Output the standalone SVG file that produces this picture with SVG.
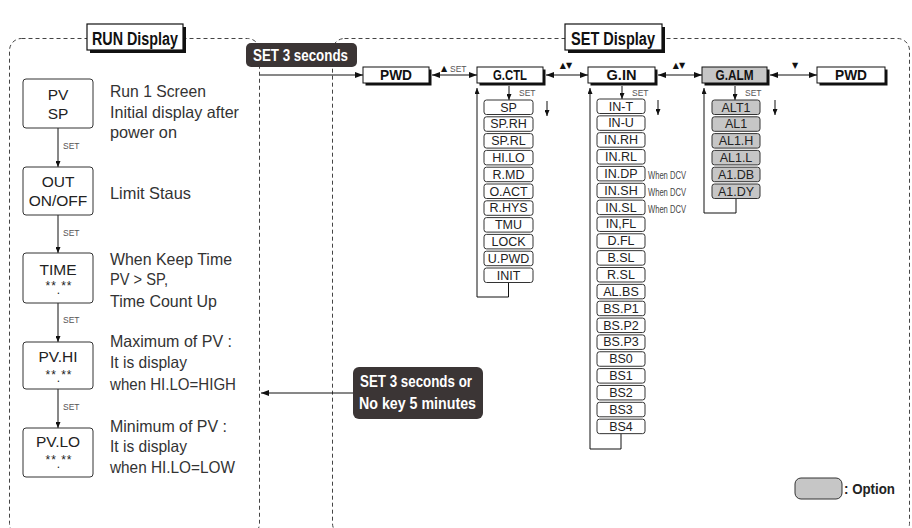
<svg xmlns="http://www.w3.org/2000/svg" width="912" height="528" viewBox="0 0 912 528">
<style>
.dash{fill:none;stroke:#444;stroke-width:1;stroke-dasharray:4 3}
.ln{fill:none;stroke:#111;stroke-width:1}
.ttl rect.sh{fill:#111}
.ttl rect.bx{fill:#fff;stroke:#111;stroke-width:1.2}
.ttl text{font-family:"Liberation Sans",Arial,sans-serif;font-weight:bold;font-size:18px;fill:#111}
.dark rect{fill:#3b3535}
.dark text{font-family:"Liberation Sans",Arial,sans-serif;font-weight:bold;font-size:16.5px;fill:#fff}
.top rect.sh{fill:#111}
.top rect.bx{fill:#fff;stroke:#111;stroke-width:1}
.top.opt rect.bx{fill:#c6c6c6}
.top text{font-family:"Liberation Sans",Arial,sans-serif;font-weight:bold;font-size:14px;fill:#111;text-anchor:middle}
.it rect{fill:#fff;stroke:#333;stroke-width:1}
.it.opt rect{fill:#c6c6c6}
.it text{font-family:"Liberation Sans",Arial,sans-serif;font-size:12.5px;fill:#222;text-anchor:middle}
.lbl{font-family:"Liberation Sans",Arial,sans-serif;font-size:8.5px;fill:#555}
.tri{font-family:"DejaVu Sans",sans-serif;font-size:8px;fill:#111;text-anchor:middle}
.dcv{font-family:"Liberation Sans",Arial,sans-serif;font-size:10px;fill:#444}
.desc{font-family:"Liberation Sans",Arial,sans-serif;font-size:16.5px;fill:#333}
.nd rect{fill:#fff;stroke:#333;stroke-width:1}
.nd text{font-family:"Liberation Sans",Arial,sans-serif;font-size:15.5px;fill:#222;text-anchor:middle}
.nd text.st{font-size:12px;letter-spacing:1px}
</style>
<defs>
<marker id="ah" viewBox="0 0 8 6" refX="8" refY="3" markerWidth="8" markerHeight="6" markerUnits="userSpaceOnUse" orient="auto-start-reverse"><path d="M0,0L8,3L0,6z" fill="#111"/></marker>
<marker id="ahs" viewBox="0 0 6 5" refX="6" refY="2.5" markerWidth="6" markerHeight="5" markerUnits="userSpaceOnUse" orient="auto-start-reverse"><path d="M0,0L6,2.5L0,5z" fill="#111"/></marker>
</defs>

<!-- panels -->
<g id="panels">
<rect class="dash" x="9.5" y="38.5" width="250" height="497" rx="12"/>
<rect class="dash" x="332.5" y="38.5" width="577" height="497" rx="12"/>
</g>

<g id="title-run" class="ttl">
<rect class="sh" x="90" y="27" width="96" height="26"/>
<rect class="bx" x="87" y="24" width="96" height="26"/>
<text x="92" y="45" textLength="86" lengthAdjust="spacingAndGlyphs">RUN Display</text>
</g>
<g id="title-set" class="ttl">
<rect class="sh" x="568" y="27" width="97" height="26"/>
<rect class="bx" x="565" y="24" width="97" height="26"/>
<text x="571" y="45" textLength="84" lengthAdjust="spacingAndGlyphs">SET Display</text>
</g>

<!-- connectors -->
<g id="connectors">
<line class="ln" x1="260" y1="75" x2="363" y2="75" marker-end="url(#ah)"/>
<line class="ln" x1="432" y1="75" x2="477" y2="75" marker-start="url(#ah)" marker-end="url(#ah)"/>
<line class="ln" x1="546" y1="75" x2="588" y2="75" marker-start="url(#ah)" marker-end="url(#ah)"/>
<line class="ln" x1="658" y1="75" x2="702" y2="75" marker-start="url(#ah)" marker-end="url(#ah)"/>
<line class="ln" x1="770" y1="75" x2="817" y2="75" marker-start="url(#ah)" marker-end="url(#ah)"/>
<line class="ln" x1="353" y1="393" x2="261" y2="393" marker-end="url(#ah)"/>
<line class="ln" x1="509" y1="86" x2="509" y2="100" marker-end="url(#ahs)"/>
<line class="ln" x1="622" y1="86" x2="622" y2="99" marker-end="url(#ahs)"/>
<line class="ln" x1="735" y1="86" x2="735" y2="100" marker-end="url(#ahs)"/>
<line class="ln" x1="547" y1="101" x2="547" y2="116" marker-end="url(#ahs)"/>
<line class="ln" x1="658" y1="100" x2="658" y2="115" marker-end="url(#ahs)"/>
<line class="ln" x1="775" y1="100" x2="775" y2="115" marker-end="url(#ahs)"/>
<polyline class="ln" points="508.5,282.5 508.5,297 477,297 477,88" marker-end="url(#ahs)"/>
<polyline class="ln" points="621,433.5 621,449 590,449 590,88" marker-end="url(#ahs)"/>
<polyline class="ln" points="736,198 736,213 704,213 704,88" marker-end="url(#ahs)"/>
<line class="ln" x1="58" y1="128" x2="58" y2="167" marker-end="url(#ahs)"/>
<line class="ln" x1="58" y1="215" x2="58" y2="253" marker-end="url(#ahs)"/>
<line class="ln" x1="58" y1="303" x2="58" y2="342" marker-end="url(#ahs)"/>
<line class="ln" x1="58" y1="389" x2="58" y2="428" marker-end="url(#ahs)"/>
</g>

<g id="labels">
<text class="lbl" x="63" y="149">SET</text>
<text class="lbl" x="63" y="236">SET</text>
<text class="lbl" x="63" y="323">SET</text>
<text class="lbl" x="63" y="410">SET</text>
<text class="tri" x="444" y="71">▲</text>
<text class="lbl" x="450" y="72">SET</text>
<text class="tri" x="566" y="68">▲▼</text>
<text class="tri" x="679" y="68">▲▼</text>
<text class="tri" x="795" y="68">▼</text>
<text class="lbl" x="519" y="96">SET</text>
<text class="lbl" x="632" y="96">SET</text>
<text class="lbl" x="745" y="96">SET</text>
<text class="dcv" x="648" y="179" textLength="38" lengthAdjust="spacingAndGlyphs">When DCV</text>
<text class="dcv" x="648" y="196" textLength="38" lengthAdjust="spacingAndGlyphs">When DCV</text>
<text class="dcv" x="648" y="213" textLength="38" lengthAdjust="spacingAndGlyphs">When DCV</text>
</g>

<g id="set3" class="dark">
<rect x="246" y="43" width="111" height="24" rx="5"/>
<text x="253" y="61" textLength="95" lengthAdjust="spacingAndGlyphs">SET 3 seconds</text>
</g>
<g id="set3-nokey" class="dark">
<rect x="353" y="367" width="130" height="52" rx="6"/>
<text x="360" y="387" textLength="112" lengthAdjust="spacingAndGlyphs">SET 3 seconds or</text>
<text x="359" y="409" textLength="117" lengthAdjust="spacingAndGlyphs">No key 5 minutes</text>
</g>

<!-- top row -->
<g id="pwd1" class="top"><rect class="sh" x="365.5" y="69.5" width="66" height="16"/><rect class="bx" x="363" y="67" width="66" height="16"/><text x="396" y="80" textLength="32" lengthAdjust="spacingAndGlyphs">PWD</text></g>
<g id="gctl" class="top"><rect class="sh" x="479.5" y="69.5" width="66" height="16"/><rect class="bx" x="477" y="67" width="66" height="16"/><text x="510" y="80" textLength="34" lengthAdjust="spacingAndGlyphs">G.CTL</text></g>
<g id="gin" class="top"><rect class="sh" x="590.5" y="69.5" width="67" height="16"/><rect class="bx" x="588" y="67" width="67" height="16"/><text x="621.5" y="80" textLength="30" lengthAdjust="spacingAndGlyphs">G.IN</text></g>
<g id="galm" class="top opt"><rect class="sh" x="704.5" y="69.5" width="65" height="16"/><rect class="bx" x="702" y="67" width="65" height="16"/><text x="734.5" y="80" textLength="38" lengthAdjust="spacingAndGlyphs">G.ALM</text></g>
<g id="pwd2" class="top"><rect class="sh" x="819.5" y="69.5" width="68" height="16"/><rect class="bx" x="817" y="67" width="68" height="16"/><text x="851" y="80" textLength="32" lengthAdjust="spacingAndGlyphs">PWD</text></g>

<!-- G.CTL items -->
<g id="ctl-sp" class="it"><rect x="484" y="100" width="49" height="14.5" rx="2.5"/><text x="508.5" y="111.5">SP</text></g>
<g id="ctl-sprh" class="it"><rect x="484" y="116.8" width="49" height="14.5" rx="2.5"/><text x="508.5" y="128.3">SP.RH</text></g>
<g id="ctl-sprl" class="it"><rect x="484" y="133.6" width="49" height="14.5" rx="2.5"/><text x="508.5" y="145.1">SP.RL</text></g>
<g id="ctl-hilo" class="it"><rect x="484" y="150.4" width="49" height="14.5" rx="2.5"/><text x="508.5" y="161.9">HI.LO</text></g>
<g id="ctl-rmd" class="it"><rect x="484" y="167.2" width="49" height="14.5" rx="2.5"/><text x="508.5" y="178.7">R.MD</text></g>
<g id="ctl-oact" class="it"><rect x="484" y="184" width="49" height="14.5" rx="2.5"/><text x="508.5" y="195.5">O.ACT</text></g>
<g id="ctl-rhys" class="it"><rect x="484" y="200.8" width="49" height="14.5" rx="2.5"/><text x="508.5" y="212.3">R.HYS</text></g>
<g id="ctl-tmu" class="it"><rect x="484" y="217.6" width="49" height="14.5" rx="2.5"/><text x="508.5" y="229.1">TMU</text></g>
<g id="ctl-lock" class="it"><rect x="484" y="234.4" width="49" height="14.5" rx="2.5"/><text x="508.5" y="245.9">LOCK</text></g>
<g id="ctl-upwd" class="it"><rect x="484" y="251.2" width="49" height="14.5" rx="2.5"/><text x="508.5" y="262.7">U.PWD</text></g>
<g id="ctl-init" class="it"><rect x="484" y="268" width="49" height="14.5" rx="2.5"/><text x="508.5" y="279.5">INIT</text></g>

<!-- G.IN items -->
<g id="in-t" class="it"><rect x="597" y="99" width="48" height="14.5" rx="2.5"/><text x="621" y="110.5">IN-T</text></g>
<g id="in-u" class="it"><rect x="597" y="115.85" width="48" height="14.5" rx="2.5"/><text x="621" y="127.35">IN-U</text></g>
<g id="in-rh" class="it"><rect x="597" y="132.7" width="48" height="14.5" rx="2.5"/><text x="621" y="144.2">IN.RH</text></g>
<g id="in-rl" class="it"><rect x="597" y="149.55" width="48" height="14.5" rx="2.5"/><text x="621" y="161.05">IN.RL</text></g>
<g id="in-dp" class="it"><rect x="597" y="166.4" width="48" height="14.5" rx="2.5"/><text x="621" y="177.9">IN.DP</text></g>
<g id="in-sh" class="it"><rect x="597" y="183.25" width="48" height="14.5" rx="2.5"/><text x="621" y="194.75">IN.SH</text></g>
<g id="in-sl" class="it"><rect x="597" y="200.1" width="48" height="14.5" rx="2.5"/><text x="621" y="211.6">IN.SL</text></g>
<g id="in-fl" class="it"><rect x="597" y="216.95" width="48" height="14.5" rx="2.5"/><text x="621" y="228.45">IN,FL</text></g>
<g id="d-fl" class="it"><rect x="597" y="233.8" width="48" height="14.5" rx="2.5"/><text x="621" y="245.3">D.FL</text></g>
<g id="b-sl" class="it"><rect x="597" y="250.65" width="48" height="14.5" rx="2.5"/><text x="621" y="262.15">B.SL</text></g>
<g id="r-sl" class="it"><rect x="597" y="267.5" width="48" height="14.5" rx="2.5"/><text x="621" y="279">R.SL</text></g>
<g id="al-bs" class="it"><rect x="597" y="284.35" width="48" height="14.5" rx="2.5"/><text x="621" y="295.85">AL.BS</text></g>
<g id="bs-p1" class="it"><rect x="597" y="301.2" width="48" height="14.5" rx="2.5"/><text x="621" y="312.7">BS.P1</text></g>
<g id="bs-p2" class="it"><rect x="597" y="318.05" width="48" height="14.5" rx="2.5"/><text x="621" y="329.55">BS.P2</text></g>
<g id="bs-p3" class="it"><rect x="597" y="334.9" width="48" height="14.5" rx="2.5"/><text x="621" y="346.4">BS.P3</text></g>
<g id="bs0" class="it"><rect x="597" y="351.75" width="48" height="14.5" rx="2.5"/><text x="621" y="363.25">BS0</text></g>
<g id="bs1" class="it"><rect x="597" y="368.6" width="48" height="14.5" rx="2.5"/><text x="621" y="380.1">BS1</text></g>
<g id="bs2" class="it"><rect x="597" y="385.45" width="48" height="14.5" rx="2.5"/><text x="621" y="396.95">BS2</text></g>
<g id="bs3" class="it"><rect x="597" y="402.3" width="48" height="14.5" rx="2.5"/><text x="621" y="413.8">BS3</text></g>
<g id="bs4" class="it"><rect x="597" y="419.15" width="48" height="14.5" rx="2.5"/><text x="621" y="430.65">BS4</text></g>

<!-- G.ALM items -->
<g id="alt1" class="it opt"><rect x="712" y="100" width="48" height="14.5" rx="2.5"/><text x="736" y="111.5">ALT1</text></g>
<g id="al1" class="it opt"><rect x="712" y="116.8" width="48" height="14.5" rx="2.5"/><text x="736" y="128.3">AL1</text></g>
<g id="al1h" class="it opt"><rect x="712" y="133.6" width="48" height="14.5" rx="2.5"/><text x="736" y="145.1">AL1.H</text></g>
<g id="al1l" class="it opt"><rect x="712" y="150.4" width="48" height="14.5" rx="2.5"/><text x="736" y="161.9">AL1.L</text></g>
<g id="a1db" class="it opt"><rect x="712" y="167.2" width="48" height="14.5" rx="2.5"/><text x="736" y="178.7">A1.DB</text></g>
<g id="a1dy" class="it opt"><rect x="712" y="184" width="48" height="14.5" rx="2.5"/><text x="736" y="195.5">A1.DY</text></g>

<!-- left nodes -->
<g id="n-pvsp" class="nd"><rect x="23" y="79" width="70" height="49" rx="3"/><text x="58" y="100">PV</text><text x="58" y="119">SP</text></g>
<g id="n-out" class="nd"><rect x="23" y="167" width="70" height="48" rx="3"/><text x="58" y="187">OUT</text><text x="58" y="206">ON/OFF</text></g>
<g id="n-time" class="nd"><rect x="23" y="253" width="70" height="50" rx="3"/><text x="59" y="290" class="st">**<tspan dy="4">.</tspan><tspan dy="-4">**</tspan></text><text x="58" y="275">TIME</text></g>
<g id="n-pvhi" class="nd"><rect x="23" y="342" width="70" height="47" rx="3"/><text x="58" y="362">PV.HI</text><text x="59" y="379" class="st">**<tspan dy="3">.</tspan><tspan dy="-3">**</tspan></text></g>
<g id="n-pvlo" class="nd"><rect x="23" y="428" width="70" height="49" rx="3"/><text x="58" y="447">PV.LO</text><text x="59" y="464" class="st">**<tspan dy="4">.</tspan><tspan dy="-4">**</tspan></text></g>

<g id="descriptions">
<text class="desc" x="110" y="97" textLength="96" lengthAdjust="spacingAndGlyphs">Run 1 Screen</text>
<text class="desc" x="110" y="118" textLength="129" lengthAdjust="spacingAndGlyphs">Initial display after</text>
<text class="desc" x="110" y="138" textLength="67" lengthAdjust="spacingAndGlyphs">power on</text>
<text class="desc" x="110" y="199" textLength="81" lengthAdjust="spacingAndGlyphs">Limit Staus</text>
<text class="desc" x="110" y="265" textLength="122" lengthAdjust="spacingAndGlyphs">When Keep Time</text>
<text class="desc" x="110" y="285" textLength="58" lengthAdjust="spacingAndGlyphs">PV &gt; SP,</text>
<text class="desc" x="110" y="307" textLength="107" lengthAdjust="spacingAndGlyphs">Time Count Up</text>
<text class="desc" x="110" y="347" textLength="122" lengthAdjust="spacingAndGlyphs">Maximum of PV :</text>
<text class="desc" x="110" y="368" textLength="77" lengthAdjust="spacingAndGlyphs">It is display</text>
<text class="desc" x="110" y="390" textLength="126" lengthAdjust="spacingAndGlyphs">when HI.LO=HIGH</text>
<text class="desc" x="110" y="432" textLength="117" lengthAdjust="spacingAndGlyphs">Minimum of PV :</text>
<text class="desc" x="110" y="452" textLength="77" lengthAdjust="spacingAndGlyphs">It is display</text>
<text class="desc" x="110" y="473" textLength="125" lengthAdjust="spacingAndGlyphs">when HI.LO=LOW</text>
</g>

<g id="legend">
<rect x="795" y="478" width="47" height="21" rx="6" fill="#c6c6c6" stroke="#333" stroke-width="1"/>
<text x="844" y="494" font-family="'Liberation Sans',Arial,sans-serif" font-weight="bold" font-size="14" fill="#222" textLength="51" lengthAdjust="spacingAndGlyphs">: Option</text>
</g>
</svg>
